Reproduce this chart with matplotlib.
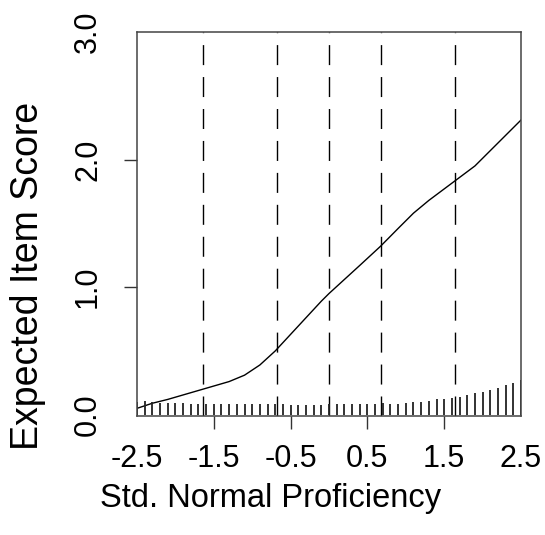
import matplotlib
matplotlib.use('Agg')
import matplotlib.pyplot as plt

plt.rcParams['font.family'] = ['Liberation Sans Narrow', 'Liberation Sans', 'DejaVu Sans']

# Expected score curve
theta = [-2.5, -2.3, -2.1, -1.9, -1.7, -1.5, -1.3, -1.1, -0.9, -0.7,
         -0.5, -0.3, -0.1, 0.0, 0.2, 0.4, 0.67, 0.9, 1.1, 1.3,
         1.5, 1.7, 1.9, 2.1, 2.3, 2.5]
score = [0.05, 0.09, 0.12, 0.155, 0.19, 0.225, 0.26, 0.31, 0.39, 0.50,
         0.63, 0.76, 0.89, 0.95, 1.06, 1.17, 1.32, 1.46, 1.58, 1.68,
         1.77, 1.86, 1.95, 2.07, 2.19, 2.31]

# Normal quantiles (dashed lines)
quantiles = [-1.645, -0.674, 0.0, 0.674, 1.645]

# Bottom spikes
spike_x = [-2.5, -2.4, -2.3, -2.2, -2.1, -2.0, -1.9, -1.8, -1.7, -1.6,
           -1.5, -1.4, -1.3, -1.2, -1.1, -1.0, -0.9, -0.8, -0.7, -0.6,
           -0.5, -0.4, -0.3, -0.2, -0.1, 0.0, 0.1, 0.2, 0.3, 0.4,
           0.5, 0.6, 0.7, 0.8, 0.9, 1.0, 1.1, 1.2, 1.3, 1.4,
           1.5, 1.6, 1.7, 1.8, 1.9, 2.0, 2.1, 2.2, 2.3, 2.4, 2.5]
spike_h = [0.10, 0.105, 0.10, 0.095, 0.09, 0.088, 0.088, 0.087, 0.087, 0.086,
           0.085, 0.085, 0.084, 0.083, 0.083, 0.082, 0.082, 0.081, 0.081, 0.081,
           0.08, 0.08, 0.08, 0.08, 0.08, 0.081, 0.082, 0.083, 0.084, 0.085,
           0.086, 0.087, 0.088, 0.087, 0.087, 0.09, 0.10, 0.10, 0.11, 0.12,
           0.125, 0.134, 0.14, 0.157, 0.168, 0.18, 0.194, 0.21, 0.23, 0.25, 0.276]

xticks = [-2.5, -1.5, -0.5, 0.5, 1.5, 2.5]
xticklabels = ['-2.5', '-1.5', '-0.5', '0.5', '1.5', '2.5']
yticks = [0.0, 1.0, 2.0, 3.0]
yticklabels = ['0.0', '1.0', '2.0', '3.0']

fig = plt.figure(figsize=(5.45, 5.35), dpi=100)
ax = fig.add_axes([137 / 545, 119 / 535, 384 / 545, 384 / 535])

ax.plot(theta, score, color='black', lw=1.0)
for q in quantiles:
    ax.axvline(q, color='black', lw=1.0, dashes=(14.4, 8.6))
ax.vlines(spike_x, 0, spike_h, color='#222222', lw=1.3)

ax.set_xlim(-2.5, 2.5)
ax.set_ylim(-0.01, 3.0)

ax.set_xticks(xticks)
ax.set_xticklabels(xticklabels, fontsize=22)
ax.set_yticks(yticks)
ax.set_yticklabels(yticklabels, fontsize=22, rotation=90, va='center')
ax.tick_params(direction='out', length=9.4, width=1.0, color='#333333')
ax.tick_params(axis='x', pad=11)
ax.tick_params(axis='y', pad=15)

# no tick marks at the box edges
for t in ax.xaxis.get_major_ticks()[::5]:
    t.tick1line.set_visible(False)
for t in ax.yaxis.get_major_ticks()[::3]:
    t.tick1line.set_visible(False)

for s in ax.spines.values():
    s.set_linewidth(1.1)
    s.set_color('#444444')

fig.text(271 / 545, 1 - 498 / 535, 'Std. Normal Proficiency', fontsize=23.5,
         ha='center', va='center')
fig.text(28 / 545, 1 - 276 / 535, 'Expected Item Score', fontsize=27,
         ha='center', va='center', rotation=90)

fig.savefig('out.png', dpi=100)
